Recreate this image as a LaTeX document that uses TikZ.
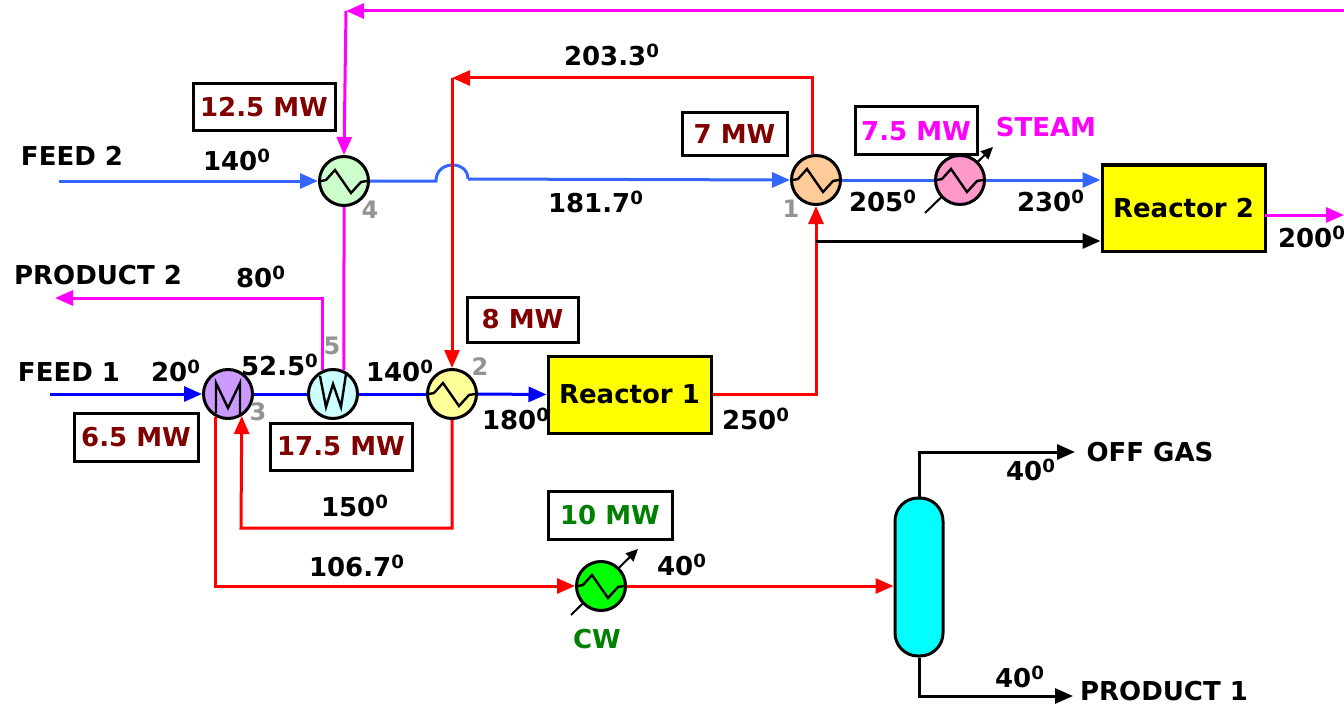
\documentclass[tikz,border=0pt]{standalone}
\usepackage{fontspec}
\setmainfont{DejaVu Sans}
\usetikzlibrary{arrows.meta}
\definecolor{darkred}{HTML}{800000}
\definecolor{feedone}{HTML}{0000FF}
\definecolor{feedtwo}{HTML}{3366FF}
\definecolor{midgreen}{HTML}{008000}
\definecolor{pink}{HTML}{FF00FF}
\definecolor{redhot}{HTML}{FF0000}
\definecolor{columnfill}{HTML}{00FFFF}
\definecolor{reactorfill}{HTML}{FFFF00}
\definecolor{cwfill}{HTML}{00FF00}
\newcommand{\temp}[1]{#1\textsuperscript{0}}
\begin{document}
\begin{tikzpicture}
[x=0.5pt,y=-0.5pt,
  hxdecorate/.style={shape=circle,draw,line width=1.5pt,inner sep=0pt,minimum size=24.5pt},%
  linedecorate/.style={line width=1.5pt},%
  arrowdecorate/.style={line width=1.5pt,-{Triangle[length=9pt,width=7.5pt]}},%
  reactordecorate/.style={draw,line width=1.5pt,fill=reactorfill,inner sep=0pt,minimum width=81.5pt,font=\bfseries\fontsize{13}{15}\selectfont},%
  dutydecorate/.style={draw,line width=1.5pt,fill=white,inner sep=0pt,font=\bfseries\fontsize{13}{15}\selectfont},%
  labeldecorate/.style={inner sep=0pt,font=\bfseries\fontsize{13}{15}\selectfont},%
  numdecorate/.style={inner sep=0pt,text=gray!85,font=\bfseries\fontsize{12}{14}\selectfont}]
\useasboundingbox (0,0) rectangle (1344,706);
% free ends of streams
\coordinate (feedtwostart) at (59,181);
\coordinate (feedonestart) at (50,394);
\coordinate (prodtwoend) at (55,298);
\coordinate (recyclestart) at (1344,11);
\coordinate (recyclecorner) at (346,11);
\coordinate (hotcorner) at (452,78);
\coordinate (jumpa) at (436,181);
\coordinate (jumpb) at (468,179);
\coordinate (tee) at (816,241);
\coordinate (outstart) at (1265,215);
\coordinate (outend) at (1344,215);
\coordinate (offend) at (1075,452);
\coordinate (prodoneend) at (1073,696);
\coordinate (steamin) at (925,213);
\coordinate (steamout) at (993,147);
\coordinate (cwin) at (571,615);
\coordinate (cwout) at (638,549);
% utility arrows go behind the exchangers
\draw[line width=1pt,-{Triangle[length=6pt,width=5.5pt]}] (steamin) -- (steamout);
\draw[line width=1pt,-{Triangle[length=6pt,width=5.5pt]}] (cwin) -- (cwout);
% exchangers
\node (hxa) at (816,180) [hxdecorate,fill={rgb,255:red,255;green,204;blue,153}] {};
\node (hxb) at (960,180) [hxdecorate,fill={rgb,255:red,255;green,153;blue,204}] {};
\node (hxc) at (228,394) [hxdecorate,fill={rgb,255:red,204;green,153;blue,255}] {};
\node (hxd) at (344,181) [hxdecorate,fill={rgb,255:red,204;green,255;blue,204}] {};
\node (hxe) at (333,394) [hxdecorate,fill={rgb,255:red,204;green,255;blue,255}] {};
\node (hxf) at (452,394) [hxdecorate,fill={rgb,255:red,255;green,255;blue,153}] {};
\node (hxg) at (601,586) [hxdecorate,fill=cwfill] {};
% reactors and column
\node (reactone) at (629.5,394.5) [reactordecorate,minimum height=38.5pt] {Reactor 1};
\node (reacttwo) at (1183.5,208) [reactordecorate,minimum height=43pt] {Reactor 2};
\node (column) at (919,577) [draw,line width=1.5pt,fill=columnfill,inner sep=0pt,minimum width=24pt,minimum height=79pt,rounded corners=11.5pt] {};
% symbols inside the exchangers
\foreach \hx in {hxa,hxb,hxd,hxf,hxg}
  \draw[line width=1.2pt,shift={(\hx.center)}] (-23,0) -- (-18,-1) -- (-9,-11) -- (7,12) -- (17,1) -- (23,0);
\draw[line width=1.2pt,shift={(hxc.center)}] (-12,19) -- (-12,-11) -- (0,14) -- (12,-11) -- (12,20);
\draw[line width=1.2pt,shift={(hxe.center)}] (-13,-18) -- (-7,13) -- (0,-10) -- (8,13) -- (13,-20);
% blue streams
\draw[arrowdecorate,feedtwo] (feedtwostart) -- (hxd.west);
\draw[linedecorate,feedtwo] (hxd.east) -- (jumpa) .. controls (436,160) and (468,160) .. (jumpb);
\draw[arrowdecorate,feedtwo] (jumpb) -- (hxa.west);
\draw[linedecorate,feedtwo] (hxa.east) -- (hxb.west);
\draw[arrowdecorate,feedtwo] (hxb.east) -- (hxb.east -| reacttwo.west);
\draw[arrowdecorate,feedone] (feedonestart) -- (hxc.west);
\draw[linedecorate,feedone] (hxc.east) -- (hxe.west);
\draw[linedecorate,feedone] (hxe.east) -- (hxf.west);
\draw[arrowdecorate,feedone] (hxf.east) -- (reactone.west);
% magenta streams
\draw[arrowdecorate,pink] (recyclestart) -- (recyclecorner);
\draw[arrowdecorate,pink] (recyclecorner) -- (hxd.north);
\draw[linedecorate,pink] (hxd.south) -- (hxe.65);
\draw[arrowdecorate,pink] (hxe.115) |- (prodtwoend);
\draw[arrowdecorate,pink] (outstart) -- (outend);
% red streams
\draw[arrowdecorate,redhot] (hxa.97) |- (hotcorner);
\draw[arrowdecorate,redhot] (hotcorner) -- (hxf.north);
\draw[arrowdecorate,redhot] (reactone.east) -| (hxa.south);
\draw[arrowdecorate,redhot] (hxf.south) |- (241,528) -- (hxc.-58);
\draw[arrowdecorate,redhot] (hxc.240) |- (hxg.west);
\draw[arrowdecorate,redhot] (hxg.east) -- (hxg.east -| column.west);
% black streams
\draw[arrowdecorate,black] (tee) -- (tee -| reacttwo.west);
\draw[arrowdecorate,black] (column.north) |- (offend);
\draw[arrowdecorate,black] (column.south) |- (prodoneend);
% duty boxes
\node (dutyd) at (264,107.5) [dutydecorate,minimum width=71pt,minimum height=23.5pt,text=darkred] {12.5 MW};
\node (dutya) at (734.5,134.5) [dutydecorate,minimum width=52.5pt,minimum height=21.5pt,text=darkred] {7 MW};
\node (dutyb) at (916,131) [dutydecorate,minimum width=61pt,minimum height=24pt,text=pink] {7.5 MW};
\node (dutyf) at (522.5,319.5) [dutydecorate,minimum width=55.5pt,minimum height=22.5pt,text=darkred] {8 MW};
\node (dutyc) at (136,437) [dutydecorate,minimum width=62pt,minimum height=24pt,text=darkred] {6.5 MW};
\node (dutye) at (341,446.5) [dutydecorate,minimum width=71pt,minimum height=23.5pt,text=darkred] {17.5 MW};
\node (dutyg) at (610,515) [dutydecorate,minimum width=62pt,minimum height=24pt,text=midgreen] {10 MW};
% stream labels
\node (feedtwo) at (72,156) [labeldecorate] {FEED 2};
\node (feedone) at (69,372) [labeldecorate] {FEED 1};
\node (prodtwo) at (98,275) [labeldecorate] {PRODUCT 2};
\node (prodone) at (1164,691) [labeldecorate] {PRODUCT 1};
\node (offgas) at (1150,452) [labeldecorate] {OFF GAS};
\node (steam) at (1046,127) [labeldecorate,text=pink] {STEAM};
\node (cw) at (597,639) [labeldecorate,text=midgreen] {CW};
% temperatures
\node (ta) at (237,160) [labeldecorate] {\temp{140}};
\node (tb) at (261,277) [labeldecorate] {\temp{80}};
\node (tc) at (176,371) [labeldecorate] {\temp{20}};
\node (td) at (280,365) [labeldecorate] {\temp{52.5}};
\node (te) at (400,371) [labeldecorate] {\temp{140}};
\node (tf) at (516,419) [labeldecorate] {\temp{180}};
\node (tg) at (756,419) [labeldecorate] {\temp{250}};
\node (th) at (612,55) [labeldecorate] {\temp{203.3}};
\node (ti) at (596,202) [labeldecorate] {\temp{181.7}};
\node (tj) at (883,201) [labeldecorate] {\temp{205}};
\node (tk) at (1051,201) [labeldecorate] {\temp{230}};
\node (tl) at (1312,237) [labeldecorate] {\temp{200}};
\node (tm) at (355,506) [labeldecorate] {\temp{150}};
\node (tn) at (357,566) [labeldecorate] {\temp{106.7}};
\node (to) at (682,565) [labeldecorate] {\temp{40}};
\node (tp) at (1031,470) [labeldecorate] {\temp{40}};
\node (tq) at (1020,677) [labeldecorate] {\temp{40}};
% exchanger numbers
\node (numa) at (791,209) [numdecorate] {1};
\node (numf) at (480,367) [numdecorate] {2};
\node (numc) at (258,412) [numdecorate] {3};
\node (numd) at (370,210) [numdecorate] {4};
\node (nume) at (332,346) [numdecorate] {5};
\end{tikzpicture}
\end{document}
